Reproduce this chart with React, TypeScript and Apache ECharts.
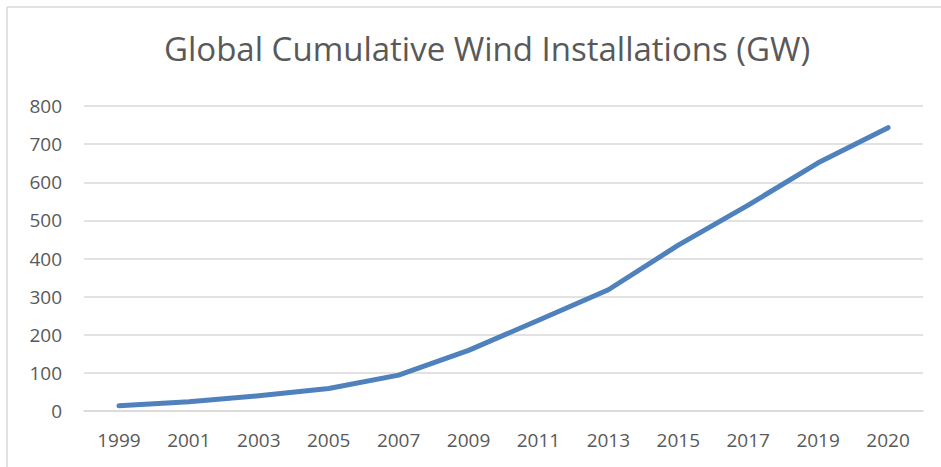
import React, { useEffect, useRef } from "react";
import * as echarts from "echarts";

const years = ["1999", "2001", "2003", "2005", "2007", "2009", "2011", "2013", "2015", "2017", "2019", "2020"];
const capacityGW = [13.6, 24, 40, 59, 94, 159, 238, 318, 435, 540, 651, 743];
const yTicks = { min: 0, max: 800, interval: 100 };
const titleText = "Global Cumulative Wind Installations (GW)";

export default function App() {
  const ref = useRef<HTMLDivElement>(null);
  useEffect(() => {
    if (!ref.current) return;
    const chart = echarts.init(ref.current, null, { renderer: "svg" });
    const font = "'Open Sans', Lato, sans-serif";
    chart.setOption({
      animation: false,
      backgroundColor: "#ffffff",
      title: {
        text: titleText,
        left: 159,
        top: 27,
        textStyle: { fontFamily: font, fontSize: 33, fontWeight: "normal", color: "#595959" },
      },
      grid: { left: 84, right: 18, top: 106, bottom: 56, containLabel: false },
      xAxis: {
        type: "category",
        data: years,
        boundaryGap: true,
        axisLine: { show: true, lineStyle: { color: "#d9d9d9", width: 1.5 } },
        axisTick: { show: false },
        axisLabel: { fontFamily: font, fontSize: 19, color: "#595959", margin: 19, interval: 0 },
      },
      yAxis: {
        type: "value",
        min: yTicks.min,
        max: yTicks.max,
        interval: yTicks.interval,
        axisLine: { show: false },
        axisTick: { show: false },
        axisLabel: { fontFamily: font, fontSize: 19, color: "#595959", margin: 22 },
        splitLine: { lineStyle: { color: "#d9d9d9", width: 1.5 } },
      },
      series: [
        {
          type: "line",
          data: capacityGW,
          symbol: "none",
          lineStyle: { color: "#4f81bd", width: 5, cap: "round", join: "round" },
        },
      ],
      graphic: [
        { type: "line", shape: { x1: 7, y1: 7, x2: 941, y2: 7 }, style: { stroke: "#d9d9d9", lineWidth: 1.5 } },
        { type: "line", shape: { x1: 7, y1: 7, x2: 7, y2: 467 }, style: { stroke: "#d9d9d9", lineWidth: 1.5 } },
      ],
    });
    return () => chart.dispose();
  }, []);
  return (
    <div
      ref={ref}
      style={{ position: "absolute", left: 0, top: 0, width: 941, height: 467 }}
    />
  );
}
